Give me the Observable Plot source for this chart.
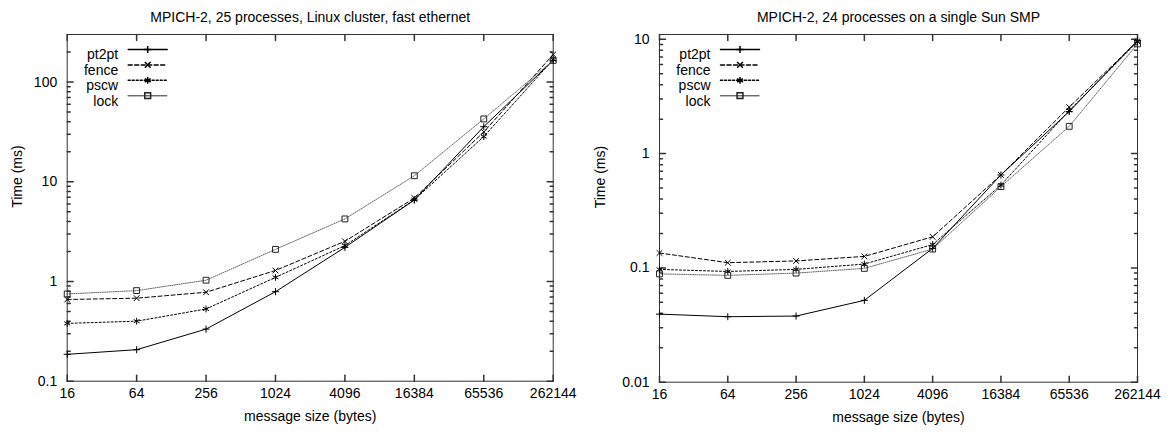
<!DOCTYPE html>
<html><head><meta charset="utf-8">
<script src="https://cdn.jsdelivr.net/npm/d3@7"></script>
<script src="https://cdn.jsdelivr.net/npm/@observablehq/plot@0.6"></script>
<style>
body{margin:0;background:#fff;}
#wrap{display:flex;width:1167px;height:434px;}
#wrap svg{display:block;}
</style></head><body><div id="wrap"></div>
<script>
// ---- data ----
const sizes = [16, 64, 256, 1024, 4096, 16384, 65536, 262144];
const sizeLabels = ["16", "64", "256", "1024", "4096", "16384", "65536", "262144"];
const seriesNames = ["pt2pt", "fence", "pscw", "lock"];

const leftTitle = "MPICH-2, 25 processes, Linux cluster, fast ethernet";
const leftPt2pt = [0.186, 0.207, 0.333, 0.79, 2.2, 6.56, 35.7, 165];
const leftFence = [0.66, 0.68, 0.78, 1.29, 2.53, 6.87, 31.6, 189];
const leftPscw  = [0.38, 0.40, 0.53, 1.1, 2.29, 6.6, 28.4, 168];
const leftLock  = [0.75, 0.81, 1.03, 2.1, 4.24, 11.5, 42.7, 165];
const leftYTicks = [0.1, 1, 10, 100];
const leftYLabels = ["0.1", "1", "10", "100"];
const leftYDomain = [0.1, 300];

const rightTitle = "MPICH-2, 24 processes on a single Sun SMP";
const rightPt2pt = [0.0394, 0.0374, 0.0379, 0.052, 0.148, 0.65, 2.33, 9.75];
const rightFence = [0.135, 0.111, 0.115, 0.126, 0.187, 0.65, 2.55, 9.6];
const rightPscw  = [0.097, 0.093, 0.097, 0.108, 0.16, 0.53, 2.38, 9.5];
const rightLock  = [0.0886, 0.086, 0.090, 0.099, 0.146, 0.514, 1.73, 9.1];
const rightYTicks = [0.01, 0.1, 1, 10];
const rightYLabels = ["0.01", "0.1", "1", "10"];
const rightYDomain = [0.01, 11];

const minorMultipliers = [2, 3, 4, 5, 6, 7, 8, 9];
const xLabel = "message size (bytes)";
const yLabel = "Time (ms)";

// ---- styles ----
const FONT = "'Liberation Sans', Arial, Helvetica, sans-serif";
const FS = 14;
const AX = "#333";
const styles = {
  pt2pt: {stroke: "#000", dash: null, symbol: "plus", r: 2.4, mstroke: "#000"},
  fence: {stroke: "#000", dash: "4,2.5", symbol: "times", r: 2.7, mstroke: "#000"},
  pscw:  {stroke: "#000", dash: "2,2", symbol: "asterisk", r: 3.2, mstroke: "#000"},
  lock:  {stroke: "#666", dash: "1,1.2", symbol: "square", r: 3.3, mstroke: "#222"}
};
const tickShape = {draw(ctx, l) { ctx.moveTo(0, 0); ctx.lineTo(0, -l); }};

function panel({title, values, yDomain, yTicks, yLabels, width, marginLeft, marginRight, marginBottom}) {
  const marginTop = 34;
  const table = [];
  seriesNames.forEach((s, i) => sizes.forEach((x, j) => table.push({series: s, size: x, time: values[i][j]})));
  const minor = [];
  for (const t of yTicks) for (const m of minorMultipliers) {
    const v = t * m;
    if (v > yDomain[0] && v < yDomain[1] * 0.999) minor.push(v);
  }
  const yTickData = yTicks.map((v, i) => ({v, label: yLabels[i]}));
  const xTickData = sizes.map((v, i) => ({v, label: sizeLabels[i]}));
  const marks = [
    Plot.frame({stroke: AX}),
    // inward ticks (mirrored)
    Plot.vector(yTicks, {y: d => d, frameAnchor: "left", rotate: 90, length: 6, anchor: "start", shape: tickShape, stroke: AX}),
    Plot.vector(yTicks, {y: d => d, frameAnchor: "right", rotate: -90, length: 6, anchor: "start", shape: tickShape, stroke: AX}),
    Plot.vector(minor, {y: d => d, frameAnchor: "left", rotate: 90, length: 3, anchor: "start", shape: tickShape, stroke: AX}),
    Plot.vector(minor, {y: d => d, frameAnchor: "right", rotate: -90, length: 3, anchor: "start", shape: tickShape, stroke: AX}),
    Plot.vector(sizes, {x: d => d, frameAnchor: "bottom", rotate: 0, length: 6, anchor: "start", shape: tickShape, stroke: AX}),
    Plot.vector(sizes, {x: d => d, frameAnchor: "top", rotate: 180, length: 6, anchor: "start", shape: tickShape, stroke: AX}),
    // tick labels
    Plot.text(yTickData, {y: "v", text: "label", frameAnchor: "left", dx: -10, textAnchor: "end", fontSize: FS, fill: "#000"}),
    Plot.text(xTickData, {x: "v", text: "label", frameAnchor: "bottom", dy: 16.5, fontSize: FS, fill: "#000"}),
  ];
  seriesNames.forEach((s) => {
    const st = styles[s];
    const rows = table.filter(d => d.series === s);
    marks.push(Plot.line(rows, {x: "size", y: "time", stroke: st.stroke, strokeWidth: 1, strokeDasharray: st.dash}));
  });
  seriesNames.forEach((s) => {
    const st = styles[s];
    const rows = table.filter(d => d.series === s);
    marks.push(Plot.dot(rows, {x: "size", y: "time", symbol: st.symbol, r: st.r, stroke: st.mstroke, fill: "none", strokeWidth: 1}));
  });
  // legend
  seriesNames.forEach((s, i) => {
    const st = styles[s];
    const dy = 15 + 15.4 * i;
    marks.push(Plot.text([s], {text: d => d, frameAnchor: "top-left", dx: 51, dy, textAnchor: "end", fontSize: FS, fill: "#000"}));
    marks.push(Plot.vector([s], {frameAnchor: "top-left", dx: 61, dy, rotate: 90, length: 39, anchor: "start", shape: tickShape, stroke: st.stroke, strokeDasharray: st.dash}));
    marks.push(Plot.dot([s], {frameAnchor: "top-left", dx: 80.5, dy, symbol: st.symbol, r: st.r, stroke: st.mstroke, fill: "none"}));
  });
  // titles and labels
  marks.push(Plot.text([title], {text: d => d, frameAnchor: "top", dy: -22, fontSize: FS, fill: "#000"}));
  marks.push(Plot.text([xLabel], {text: d => d, frameAnchor: "bottom", dy: 39.3, fontSize: FS, fill: "#000"}));
  marks.push(Plot.text([yLabel], {text: d => d, frameAnchor: "left", dx: 16.7 - marginLeft, rotate: -90, fontSize: FS, fill: "#000"}));

  return Plot.plot({
    width, height: 434, marginTop, marginLeft, marginRight, marginBottom,
    style: {fontFamily: FONT, fontSize: FS + "px", color: "#000", background: "#fff", overflow: "visible"},
    x: {type: "log", domain: [16, 262144], axis: null},
    y: {type: "log", domain: yDomain, axis: null},
    marks
  });
}

const wrap = document.getElementById("wrap");
wrap.appendChild(panel({
  title: leftTitle, values: [leftPt2pt, leftFence, leftPscw, leftLock],
  yDomain: leftYDomain, yTicks: leftYTicks, yLabels: leftYLabels,
  width: 583, marginLeft: 66.7, marginRight: 30.3, marginBottom: 53.3
}));
wrap.appendChild(panel({
  title: rightTitle, values: [rightPt2pt, rightFence, rightPscw, rightLock],
  yDomain: rightYDomain, yTicks: rightYTicks, yLabels: rightYLabels,
  width: 584, marginLeft: 76, marginRight: 30, marginBottom: 52.3
}));
</script></body></html>
